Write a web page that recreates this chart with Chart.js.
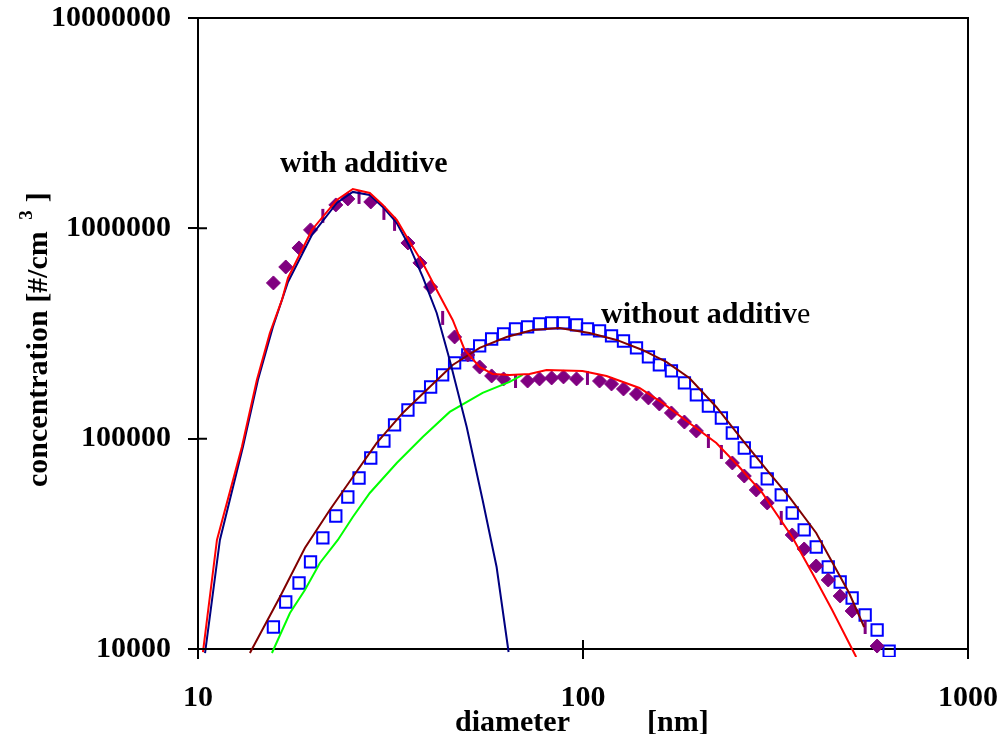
<!DOCTYPE html>
<html>
<head>
<meta charset="utf-8">
<script src="https://cdn.jsdelivr.net/npm/chart.js@4.4.1/dist/chart.umd.min.js"></script>
<style>
  html, body { margin: 0; padding: 0; background: #fff; }
  #wrap { width: 1007px; height: 734px; }
</style>
</head>
<body>
<div id="wrap"><canvas id="sizeChart" width="1007" height="734"></canvas></div>
<script>
// axis ticks
const xTicks = [10, 100, 1000];
const yTicks = [10000, 100000, 1000000, 10000000];

// measured, with additive (diamonds)
const withAddDiam = [15.7, 16.9, 18.3, 19.6, 22.8, 24.5, 28.1, 35.1, 37.7, 40.2,
  46.4, 50.2, 53.9, 57.9, 62.2, 71.8, 77.1, 82.9, 89.0, 96.2,
  110.4, 118.6, 127.4, 137.7, 147.9, 157.9, 169.7, 183.4, 197.0, 244.3,
  262.4, 281.9, 301.0, 349.5, 375.4, 403.4, 433.5, 465.6, 500.1, 580.7];
const withAddConc = [550000, 655000, 807000, 983000, 1292000, 1380000, 1335000, 852000, 685000, 526000,
  304500, 250000, 219000, 198700, 192300, 188000, 192300, 194400, 196600, 192300,
  188000, 182000, 172300, 163200, 156200, 146200, 132500, 120000, 108800, 76650,
  66450, 57020, 49470, 34840, 29890, 24810, 21290, 17870, 15160, 10330];

// measured, with additive (dash markers)
const withAddDashDiam = [21.1, 26.2, 30.4, 32.4, 43.2, 66.8, 102.7, 211.7, 228.8, 327.3, 540.6];
const withAddDashConc = [1146000, 1410000, 1184000, 1050000, 375000, 188000, 194400, 97500, 86450, 41980, 12720];

// measured, without additive (squares)
const noAddDiam = [15.7, 16.9, 18.3, 19.6, 21.1, 22.8, 24.5, 26.2, 28.1, 30.4,
  32.4, 35.1, 37.7, 40.2, 43.2, 46.4, 50.2, 53.9, 57.9, 62.2,
  66.8, 71.8, 77.1, 82.9, 89.0, 96.2, 102.7, 110.4, 118.6, 127.4,
  137.7, 147.9, 157.9, 169.7, 183.4, 197.0, 211.7, 228.8, 244.3, 262.4,
  281.9, 301.0, 327.3, 349.5, 375.4, 403.4, 433.5, 465.6, 500.1, 540.6,
  580.7, 624.0];
const noAddConc = [12720, 16730, 20600, 25930, 33720, 42900, 52820, 65030, 80940, 97500,
  116200, 136900, 157800, 176100, 200900, 229100, 250000, 276000, 297800, 314600,
  332400, 339800, 351200, 355000, 355000, 347300, 332400, 325300, 307800, 291400,
  270000, 244700, 224100, 209900, 184000, 161400, 143000, 125400, 106400, 90300,
  77500, 64330, 54000, 44330, 36810, 30550, 24540, 20830, 17480, 14510,
  12310, 9780];

// fit curves
const redDiam = [10.3, 11.2, 13.0, 14.22, 15.37, 16.52, 17.13, 19.76, 22.94, 25.24,
  27.94, 30.2, 32.83, 35.48, 38.34, 41.69, 45.87, 49.28, 53.89, 58.24,
  64.46, 72.64, 80.41, 99.7, 115.1, 140.2, 160.8, 188.9, 222.0, 254.7,
  292.2, 349.5, 393.9, 443.8, 512.3];
const redConc = [9676, 32990, 91300, 190200, 318200, 456500, 580900, 982600, 1365000, 1539000,
  1473000, 1292000, 1096000, 861500, 684800, 509400, 366700, 264100, 219300, 203000,
  200900, 203000, 212200, 209900, 198700, 174200, 147900, 118800, 95400, 73340,
  55190, 34090, 22980, 15330, 9160];

const navyDiam = [10.43, 11.4, 13.08, 14.31, 15.65, 17.13, 19.76, 22.94, 25.24, 27.94,
  30.2, 32.83, 35.48, 38.34, 41.69, 45.06, 49.88, 54.86, 59.65, 64.08];
const navyConc = [9570, 32990, 91300, 190200, 339800, 556100, 930000, 1321000, 1490000, 1441000,
  1264000, 1061000, 815500, 587300, 396000, 236700, 113700, 51100, 24540, 9676];

const greenDiam = [15.56, 17.33, 18.95, 20.73, 23.08, 25.24, 27.94, 32.83, 38.34, 45.06, 54.86, 64.46, 69.66];
const greenConc = [9570, 14830, 19080, 25650, 32990, 42430, 55190, 76650, 101900, 134000, 165000, 186100, 200900];

const brownDiam = [13.64, 16.32, 18.95, 21.99, 25.24, 29.13, 34.03, 39.98, 45.87, 53.89,
  63.33, 73.96, 86.9, 104.0, 122.2, 142.7, 164.6, 188.9, 222.0, 259.3,
  304.6, 343.3, 403.4, 491.2, 537.3];
const brownConc = [9570, 17670, 30220, 45810, 65750, 95400, 132500, 176100, 224100, 270000,
  304500, 328800, 336000, 318200, 294700, 264100, 231600, 194400, 141500, 98600,
  68690, 52820, 35610, 18460, 12720];

const pts = (xs, ys) => xs.map((v, i) => ({ x: v, y: ys[i] }));
const FONT = "'Liberation Serif', 'Times New Roman', serif";
const clipBox = { left: 5, top: 0, right: 0, bottom: 8 };

function curve(label, xs, ys, color) {
  return { label, data: pts(xs, ys), showLine: true, borderColor: color, borderWidth: 2,
    pointRadius: 0, clip: clipBox };
}

// extra drawing: box, inward ticks, labels
const extras = {
  id: 'extras',
  afterDraw(chart) {
    const { ctx, chartArea: a, scales: { x, y } } = chart;
    ctx.save();
    ctx.strokeStyle = '#000';
    ctx.lineWidth = 2;
    ctx.beginPath();
    ctx.moveTo(a.left, a.top);
    ctx.lineTo(a.right, a.top);
    ctx.lineTo(a.right, a.bottom);
    xTicks.forEach(v => {
      const p = x.getPixelForValue(v);
      ctx.moveTo(p, a.bottom); ctx.lineTo(p, a.bottom - 9);
    });
    yTicks.forEach(v => {
      const p = y.getPixelForValue(v);
      ctx.moveTo(a.left, p); ctx.lineTo(a.left + 9, p);
    });
    ctx.stroke();

    ctx.fillStyle = '#000';
    ctx.textBaseline = 'alphabetic';
    ctx.textAlign = 'left';
    ctx.font = 'bold 30px ' + FONT;
    ctx.fillText('with additive', 280, 172);
    ctx.fillText('without additiv', 601, 323);
    const w1 = ctx.measureText('without additiv').width;
    ctx.font = '30px ' + FONT;
    ctx.fillText('e', 601 + w1, 323);

    ctx.font = 'bold 30px ' + FONT;
    ctx.fillText('diameter', 455, 731);
    ctx.fillText('[nm]', 647, 731);

    // y title, rotated
    ctx.translate(47, 487);
    ctx.rotate(-Math.PI / 2);
    const t1 = 'concentration [#/cm ';
    ctx.fillText(t1, 0, 0);
    let off = ctx.measureText(t1).width;
    ctx.font = 'bold 19px ' + FONT;
    ctx.fillText('3', off + 4, -15);
    off += ctx.measureText('3').width + 12;
    ctx.font = 'bold 30px ' + FONT;
    ctx.fillText(']', off, 0);
    ctx.restore();
  }
};

const ctx = document.getElementById('sizeChart').getContext('2d');
new Chart(ctx, {
  type: 'scatter',
  data: {
    datasets: [
      curve('fit with additive', redDiam, redConc, '#ff0000'),
      curve('mode 1', navyDiam, navyConc, '#000080'),
      curve('mode 2', greenDiam, greenConc, '#00ff00'),
      curve('fit without additive', brownDiam, brownConc, '#800000'),
      { label: 'with additive', data: pts(withAddDiam, withAddConc), pointStyle: 'rectRot',
        pointRadius: 7, backgroundColor: '#800080', borderColor: '#800080', borderWidth: 1, clip: clipBox },
      { label: 'with additive (2)', data: pts(withAddDashDiam, withAddDashConc), pointStyle: 'line',
        rotation: 90, pointRadius: 7, borderColor: '#800080', borderWidth: 3, clip: clipBox },
      { label: 'without additive', data: pts(noAddDiam, noAddConc), pointStyle: 'rect',
        pointRadius: 8, backgroundColor: 'rgba(0,0,0,0)', borderColor: '#0000ff', borderWidth: 2, clip: clipBox }
    ]
  },
  options: {
    responsive: false,
    animation: false,
    layout: { padding: { top: 18, right: 39, left: 0, bottom: 0 } },
    plugins: { legend: { display: false }, tooltip: { enabled: false } },
    scales: {
      x: {
        type: 'logarithmic', min: 10, max: 1000,
        afterBuildTicks: s => { s.ticks = xTicks.map(v => ({ value: v })); },
        afterFit: s => { s.height = 85; s.paddingLeft = 0; s.paddingRight = 0; },
        ticks: { color: '#000', font: { family: FONT, size: 30, weight: 'bold' }, padding: 21,
          maxRotation: 0, autoSkip: false, callback: v => String(v) },
        grid: { drawOnChartArea: false, drawTicks: true, tickLength: 10, color: '#000', lineWidth: 2 },
        border: { display: true, color: '#000', width: 2 }
      },
      y: {
        type: 'logarithmic', min: 10000, max: 10000000,
        afterBuildTicks: s => { s.ticks = yTicks.map(v => ({ value: v })); },
        afterFit: s => { s.width = 198; s.paddingTop = 0; s.paddingBottom = 0; },
        ticks: { color: '#000', font: { family: FONT, size: 30, weight: 'bold' }, padding: 17,
          autoSkip: false, callback: v => String(v) },
        grid: { drawOnChartArea: false, drawTicks: true, tickLength: 10, color: '#000', lineWidth: 2 },
        border: { display: true, color: '#000', width: 2 }
      }
    }
  },
  plugins: [extras]
});
</script>
</body>
</html>
